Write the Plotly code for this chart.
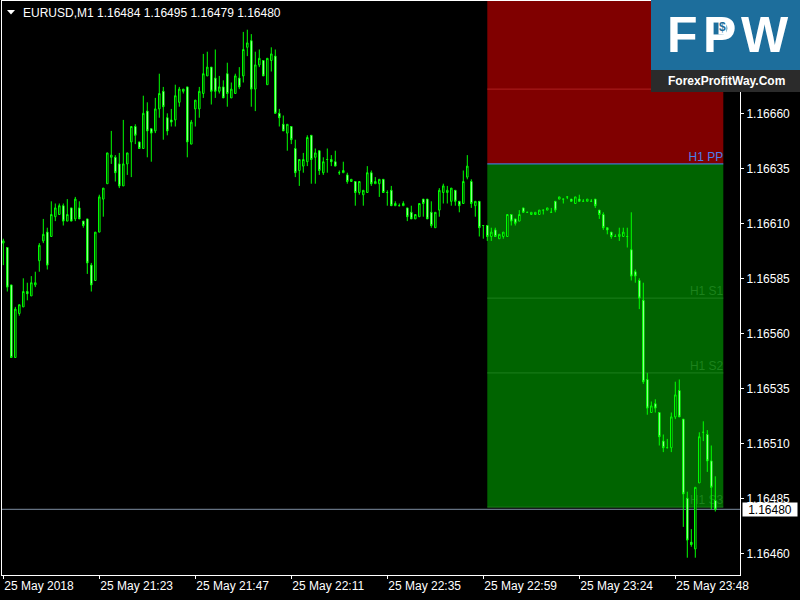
import plotly.graph_objects as go

# ---------------- data (EURUSD M1, 25 May 2018) ----------------
opens = [1.16601,1.16599,1.16582,1.16549,1.16569,1.16572,1.16579,1.16577,1.16582,1.16593,
         1.16602,1.16606,1.16604,1.16613,1.16614,1.16618,1.16611,1.16617,1.16612,1.16617,
         1.16611,1.16612,1.16591,1.16584,1.16606,1.16621,1.16628,1.16640,1.16640,1.16637,
         1.16627,1.16637,1.16647,1.16654,1.16647,1.16644,1.16661,1.16653,1.16652,1.16662,
         1.16670,1.16658,1.16657,1.16657,1.16665,1.16670,1.16672,1.16646,1.16662,1.16662,
         1.16669,1.16677,1.16681,1.16676,1.16670,1.16672,1.16678,1.16667,1.16669,1.16676,
         1.16677,1.16690,1.16693,1.16671,1.16682,1.16684,1.16673,1.16684,1.16686,1.16660,
         1.16655,1.16651,1.16654,1.16644,1.16634,1.16636,1.16638,1.16650,1.16640,1.16643,
         1.16633,1.16639,1.16639,1.16638,1.16633,1.16633,1.16632,1.16629,1.16629,1.16624,
         1.16623,1.16624,1.16633,1.16628,1.16628,1.16630,1.16624,1.16625,1.16618,1.16618,
         1.16618,1.16617,1.16615,1.16612,1.16613,1.16621,1.16621,1.16615,1.16608,1.16616,
         1.16624,1.16624,1.16620,1.16625,1.16620,1.16619,1.16631,1.16629,1.16618,1.16620,
         1.16609,1.16609,1.16604,1.16607,1.16603,1.16604,1.16604,1.16614,1.16612,1.16611,
         1.16617,1.16615,1.16614,1.16614,1.16614,1.16616,1.16616,1.16615,1.16620,1.16621,
         1.16621,1.16622,1.16621,1.16619,1.16621,1.16620,1.16620,1.16620,1.16621,1.16616,
         1.16614,1.16608,1.16606,1.16604,1.16604,1.16604,1.16604,1.16598,1.16588,1.16584,
         1.16575,1.16539,1.16524,1.16528,1.16524,1.16511,1.16508,1.16508,1.16522,1.16534,
         1.16521,1.16485,1.16465,1.16462,1.16492,1.16515,1.16514,1.16502,1.16484]
highs = [1.16603,1.16599,1.16582,1.16572,1.16573,1.16585,1.16583,1.16586,1.16588,1.16601,
         1.16612,1.16608,1.16620,1.16619,1.16619,1.16619,1.16621,1.16617,1.16622,1.16620,
         1.16611,1.16612,1.16592,1.16606,1.16623,1.16626,1.16642,1.16652,1.16641,1.16642,
         1.16657,1.16642,1.16654,1.16655,1.16647,1.16668,1.16665,1.16653,1.16667,1.16678,
         1.16672,1.16660,1.16662,1.16673,1.16672,1.16671,1.16672,1.16657,1.16666,1.16672,
         1.16687,1.16688,1.16681,1.16689,1.16677,1.16675,1.16683,1.16674,1.16678,1.16681,
         1.16697,1.16698,1.16696,1.16688,1.16689,1.16684,1.16685,1.16690,1.16689,1.16662,
         1.16659,1.16655,1.16654,1.16648,1.16639,1.16642,1.16650,1.16650,1.16644,1.16643,
         1.16640,1.16644,1.16641,1.16643,1.16634,1.16638,1.16633,1.16630,1.16629,1.16629,
         1.16625,1.16636,1.16634,1.16631,1.16630,1.16630,1.16625,1.16627,1.16620,1.16619,
         1.16620,1.16617,1.16618,1.16614,1.16619,1.16621,1.16621,1.16620,1.16615,1.16626,
         1.16628,1.16627,1.16626,1.16625,1.16620,1.16634,1.16641,1.16630,1.16620,1.16620,
         1.16609,1.16609,1.16608,1.16608,1.16605,1.16606,1.16614,1.16614,1.16612,1.16616,
         1.16617,1.16615,1.16615,1.16615,1.16616,1.16616,1.16617,1.16617,1.16620,1.16622,
         1.16621,1.16622,1.16621,1.16622,1.16623,1.16621,1.16621,1.16621,1.16621,1.16616,
         1.16615,1.16608,1.16606,1.16605,1.16608,1.16608,1.16608,1.16615,1.16589,1.16585,
         1.16583,1.16542,1.16529,1.16530,1.16524,1.16514,1.16512,1.16524,1.16538,1.16539,
         1.16521,1.16488,1.16471,1.16490,1.16515,1.16520,1.16516,1.16509,1.16495]
lows  = [1.16591,1.16579,1.16549,1.16549,1.16568,1.16572,1.16575,1.16577,1.16581,1.16588,
         1.16601,1.16589,1.16604,1.16611,1.16614,1.16609,1.16611,1.16611,1.16611,1.16612,
         1.16608,1.16587,1.16579,1.16584,1.16606,1.16613,1.16628,1.16637,1.16629,1.16626,
         1.16627,1.16632,1.16631,1.16646,1.16644,1.16644,1.16640,1.16638,1.16651,1.16658,
         1.16648,1.16650,1.16654,1.16654,1.16663,1.16669,1.16640,1.16646,1.16654,1.16658,
         1.16667,1.16677,1.16664,1.16667,1.16669,1.16667,1.16663,1.16667,1.16669,1.16671,
         1.16674,1.16686,1.16663,1.16661,1.16681,1.16677,1.16673,1.16679,1.16660,1.16654,
         1.16652,1.16643,1.16646,1.16631,1.16627,1.16633,1.16636,1.16628,1.16628,1.16632,
         1.16632,1.16633,1.16636,1.16636,1.16632,1.16633,1.16628,1.16629,1.16618,1.16623,
         1.16618,1.16624,1.16627,1.16628,1.16622,1.16624,1.16618,1.16618,1.16618,1.16618,
         1.16618,1.16611,1.16612,1.16612,1.16613,1.16613,1.16612,1.16608,1.16608,1.16613,
         1.16619,1.16619,1.16618,1.16618,1.16615,1.16619,1.16630,1.16617,1.16613,1.16604,
         1.16603,1.16602,1.16602,1.16604,1.16603,1.16603,1.16604,1.16609,1.16609,1.16611,
         1.16615,1.16615,1.16614,1.16614,1.16614,1.16614,1.16616,1.16615,1.16615,1.16621,
         1.16619,1.16621,1.16620,1.16619,1.16620,1.16620,1.16620,1.16620,1.16617,1.16612,
         1.16607,1.16605,1.16603,1.16604,1.16602,1.16604,1.16599,1.16584,1.16583,1.16571,
         1.16537,1.16523,1.16524,1.16524,1.16509,1.16506,1.16508,1.16506,1.16521,1.16522,
         1.16472,1.16458,1.16463,1.16458,1.16492,1.16511,1.16497,1.16480,1.16479]
closes = [1.16602,1.16581,1.16549,1.16571,1.16573,1.16579,1.16578,1.16583,1.16583,1.16600,
          1.16605,1.16591,1.16614,1.16617,1.16618,1.16611,1.16614,1.16611,1.16621,1.16612,
          1.16609,1.16592,1.16582,1.16606,1.16622,1.16626,1.16642,1.16641,1.16633,1.16627,
          1.16637,1.16642,1.16654,1.16650,1.16644,1.16660,1.16652,1.16651,1.16662,1.16669,
          1.16663,1.16652,1.16656,1.16668,1.16671,1.16671,1.16647,1.16656,1.16666,1.16670,
          1.16678,1.16681,1.16670,1.16670,1.16672,1.16667,1.16669,1.16671,1.16677,1.16672,
          1.16689,1.16692,1.16671,1.16682,1.16685,1.16677,1.16685,1.16687,1.16660,1.16658,
          1.16652,1.16655,1.16648,1.16633,1.16639,1.16639,1.16649,1.16639,1.16642,1.16634,
          1.16638,1.16639,1.16638,1.16636,1.16633,1.16634,1.16629,1.16630,1.16624,1.16629,
          1.16625,1.16633,1.16628,1.16629,1.16630,1.16624,1.16624,1.16618,1.16619,1.16618,
          1.16619,1.16613,1.16612,1.16614,1.16619,1.16619,1.16612,1.16609,1.16615,1.16625,
          1.16627,1.16625,1.16626,1.16620,1.16618,1.16629,1.16636,1.16619,1.16620,1.16608,
          1.16609,1.16604,1.16606,1.16604,1.16605,1.16606,1.16614,1.16611,1.16610,1.16614,
          1.16615,1.16615,1.16615,1.16615,1.16616,1.16616,1.16617,1.16615,1.16616,1.16622,
          1.16621,1.16622,1.16620,1.16622,1.16620,1.16620,1.16621,1.16620,1.16618,1.16614,
          1.16608,1.16607,1.16604,1.16604,1.16605,1.16606,1.16604,1.16586,1.16586,1.16576,
          1.16538,1.16526,1.16527,1.16526,1.16513,1.16508,1.16508,1.16522,1.16532,1.16522,
          1.16487,1.16466,1.16464,1.16490,1.16513,1.16515,1.16502,1.16490,1.16480]

bar_index = list(range(len(opens)))

x_tick_bars = [0, 24, 48, 72, 96, 120, 144, 168]
x_tick_labels = ["25 May 2018", "25 May 21:23", "25 May 21:47", "25 May 22:11",
                 "25 May 22:35", "25 May 22:59", "25 May 23:24", "25 May 23:48"]

price_ticks = [1.16460, 1.16485, 1.16510, 1.16535, 1.16560, 1.16585, 1.16610, 1.16635, 1.16660]

# H1 pivot levels (hour starting 23:00)
pivot_names = ["H1 R1", "H1 PP", "H1 S1", "H1 S2", "H1 S3"]
pivot_values = [1.16671, 1.16637, 1.16576, 1.16542, 1.16481]
pivot_r2 = 1.16732
pivot_start_bar = 121
pivot_end_bar = 180

symbol = "EURUSD,M1"
current_price = closes[-1]

# ---------------- geometry helpers (pixels -> paper) ----------------
W, H = 800, 600
ML, MR, MT, MB = 2, 60, 1, 25
PW, PH = W - ML - MR, H - MT - MB


def px(x):
    return (x - ML) / PW


def py(y):
    return (H - MB - y) / PH


Y_RANGE = [1.1645014, 1.1671105]
X_RANGE = [-0.325, 184.175]

LIME = "#00FF00"
AXIS_FONT = dict(family="Liberation Sans, Arial, sans-serif", size=12, color="#FFFFFF")

fig = go.Figure()
fig.add_trace(go.Candlestick(
    x=bar_index, open=opens, high=highs, low=lows, close=closes,
    increasing=dict(line=dict(color=LIME, width=1), fillcolor="#000000"),
    decreasing=dict(line=dict(color=LIME, width=1), fillcolor="#FFFFFF"),
    whiskerwidth=0, showlegend=False, hoverinfo="skip",
))

shapes = []
# pivot zones
shapes.append(dict(type="rect", xref="x", yref="y", layer="below",
                   x0=pivot_start_bar, x1=pivot_end_bar,
                   y0=pivot_values[1], y1=pivot_r2,
                   fillcolor="#800000", line=dict(width=0)))
shapes.append(dict(type="rect", xref="x", yref="y", layer="below",
                   x0=pivot_start_bar, x1=pivot_end_bar,
                   y0=pivot_values[4], y1=pivot_values[1],
                   fillcolor="#006400", line=dict(width=0)))
level_colors = ["#B02020", "#3A8CFF", "#1C7E1C", "#1C7E1C", "#1C7E1C"]
label_colors = ["#B02020", "#4A7FEA", "#1C821C", "#1C821C", "#1C821C"]
for name, val, lc, tc in zip(pivot_names, pivot_values, level_colors, label_colors):
    shapes.append(dict(type="line", xref="x", yref="y", layer="below",
                       x0=pivot_start_bar, x1=pivot_end_bar, y0=val, y1=val,
                       line=dict(color=lc, width=1),
                       label=dict(text=name, textposition="end", xanchor="right",
                                  yanchor="bottom", padding=1,
                                  font=dict(family="Liberation Sans, Arial", size=12, color=tc))))
# current price line
shapes.append(dict(type="line", xref="paper", yref="y", layer="below",
                   x0=0, x1=1, y0=current_price, y1=current_price,
                   line=dict(color="#7E8EA2", width=1)))
# header triangle
shapes.append(dict(type="path", xref="paper", yref="paper", layer="above",
                   path=f"M {px(7)},{py(10)} L {px(15)},{py(10)} L {px(11)},{py(14.5)} Z",
                   fillcolor="#FFFFFF", line=dict(width=0)))
# logo
shapes.append(dict(type="rect", xref="paper", yref="paper", layer="above",
                   x0=px(651), x1=px(800), y0=py(70), y1=py(0),
                   fillcolor="#1D6E9C", line=dict(width=0)))
shapes.append(dict(type="rect", xref="paper", yref="paper", layer="above",
                   x0=px(651), x1=px(800), y0=py(92), y1=py(70),
                   fillcolor="#2B2B2B", line=dict(width=0)))

annotations = []
annotations.append(dict(xref="paper", yref="paper", x=px(21), y=py(12.5),
                        xanchor="left", yanchor="middle", showarrow=False,
                        text=symbol, font=AXIS_FONT))
annotations.append(dict(xref="paper", yref="paper", x=px(95), y=py(12.5),
                        xanchor="left", yanchor="middle", showarrow=False,
                        text=" ".join(f"{v:.5f}" for v in [opens[-1], highs[-1], lows[-1], closes[-1]]),
                        font=AXIS_FONT))
# current price tag
annotations.append(dict(xref="paper", yref="y", x=px(742), y=current_price,
                        xanchor="left", yanchor="middle", showarrow=False,
                        text=f"{current_price:.5f}", bgcolor="#FFFFFF",
                        width=54, height=13, borderpad=0,
                        font=dict(family="Liberation Sans, Arial", size=12, color="#000000")))
# logo texts
LOGO_FONT = dict(family="Liberation Sans, Arial", size=50, color="#FFFFFF", weight="bold")
for ch, cx in zip(["F", "P", "W"], [682, 719, 765]):
    annotations.append(dict(xref="paper", yref="paper", x=px(cx), y=py(35),
                            xanchor="center", yanchor="middle", showarrow=False,
                            text=ch, font=LOGO_FONT))
annotations.append(dict(xref="paper", yref="paper", x=px(722), y=py(27),
                        xanchor="center", yanchor="middle", showarrow=False,
                        text="$", bgcolor="#FFFFFF", borderpad=0,
                        font=dict(family="Liberation Sans, Arial", size=12, color="#1D6E9C", weight="bold")))
annotations.append(dict(xref="paper", yref="paper", x=px(726), y=py(81),
                        xanchor="center", yanchor="middle", showarrow=False,
                        text="ForexProfitWay.Com",
                        font=dict(family="Liberation Sans, Arial", size=12, color="#FFFFFF", weight="bold")))

fig.update_layout(
    width=W, height=H,
    margin=dict(l=ML, r=MR, t=MT, b=MB, pad=0),
    paper_bgcolor="#000000", plot_bgcolor="#000000",
    showlegend=False, boxgap=0.45, hovermode=False,
    shapes=shapes, annotations=annotations,
    xaxis=dict(type="linear", range=X_RANGE, rangeslider=dict(visible=False),
               showgrid=False, zeroline=False,
               showline=True, linecolor="#FFFFFF", linewidth=1, mirror=True,
               ticks="outside", ticklen=3, tickcolor="#FFFFFF", tickwidth=1,
               tickvals=x_tick_bars, ticktext=x_tick_labels,
               ticklabelposition="outside right", tickfont=AXIS_FONT),
    yaxis=dict(range=Y_RANGE, side="right",
               showgrid=False, zeroline=False,
               showline=True, linecolor="#FFFFFF", linewidth=1, mirror=True,
               ticks="outside", ticklen=3, tickcolor="#FFFFFF", tickwidth=1,
               tickvals=price_ticks, ticktext=[f"{v:.5f}" for v in price_ticks],
               tickfont=AXIS_FONT),
)

fig.write_html("out.html", config={"displayModeBar": False},
               post_script="document.body.style.margin='0';document.body.style.background='#000';")
